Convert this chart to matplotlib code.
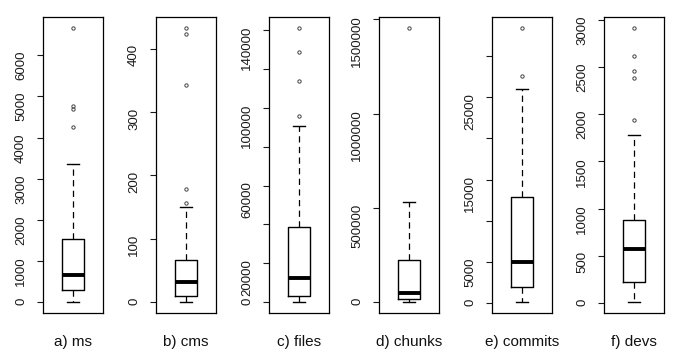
import matplotlib
matplotlib.use("Agg")
import matplotlib.pyplot as plt

plt.rcParams['font.family'] = ['Liberation Sans', 'DejaVu Sans']

# one box per panel
names = ["a) ms", "b) cms", "c) files", "d) chunks", "e) commits", "f) devs"]
whislo = [0, 0, 0, 0, 100, 10]
q1 = [285, 9.5, 3100, 16000, 1950, 223]
med = [660, 32, 12600, 48000, 4950, 567]
q3 = [1545, 67, 38800, 225000, 12930, 880]
whishi = [3358, 150, 90900, 532000, 26000, 1777]
fliers = [
    [4268, 4691, 4772, 6667],
    [157, 178, 343, 423, 433],
    [96000, 114100, 129000, 141200],
    [1455000],
    [27640, 33450],
    [1943, 2387, 2457, 2617, 2915],
]

# y ticks and their labels (R drops the ones that would overlap)
ticks = [
    [0, 1000, 2000, 3000, 4000, 5000, 6000],
    [0, 100, 200, 300, 400],
    [0, 20000, 40000, 60000, 80000, 100000, 120000, 140000],
    [0, 500000, 1000000, 1500000],
    [0, 5000, 10000, 15000, 20000, 25000, 30000],
    [0, 500, 1000, 1500, 2000, 2500, 3000],
]
tick_labels = [
    ["0", "1000", "2000", "3000", "4000", "5000", "6000"],
    ["0", "100", "200", "300", "400"],
    ["0", "20000", "", "60000", "", "100000", "", "140000"],
    ["0", "500000", "1000000", "1500000"],
    ["0", "5000", "", "15000", "", "25000", ""],
    ["0", "500", "1000", "1500", "2000", "2500", "3000"],
]

W, H = 678, 352
lefts = [43, 156, 269, 379, 492, 604]

fig = plt.figure(figsize=(W / 100, H / 100), dpi=100)

for i in range(6):
    ax = fig.add_axes([lefts[i] / W, (H - 313) / H, 60 / W, 296 / H])
    st = dict(med=med[i], q1=q1[i], q3=q3[i], whislo=whislo[i],
              whishi=whishi[i], fliers=fliers[i])
    ax.bxp([st], positions=[1], widths=0.4, capwidths=0.2,
           boxprops=dict(color="black", lw=1.0),
           medianprops=dict(color="black", lw=2.8, solid_capstyle="butt"),
           whiskerprops=dict(color="black", lw=0.9, linestyle=(0, (5, 3.5))),
           capprops=dict(color="black", lw=1.0),
           flierprops=dict(marker="o", markersize=2.4, markerfacecolor="none",
                           markeredgecolor="#444444", markeredgewidth=0.7))

    lo = min([whislo[i]] + fliers[i])
    hi = max([whishi[i]] + fliers[i])
    r = hi - lo
    ax.set_ylim(lo - 0.04 * r, hi + 0.04 * r)
    ax.set_xlim(0.46, 1.54)
    ax.set_xticks([])
    ax.set_yticks(ticks[i])
    ax.set_yticklabels(tick_labels[i])
    ax.tick_params(axis="y", direction="out", length=4.5, width=0.8, pad=7,
                   labelsize=9.5, labelrotation=90, colors="#1a1a1a")
    for sp in ax.spines.values():
        sp.set_linewidth(0.9)
        sp.set_color("black")
    ax.set_xlabel(names[i], fontsize=11, labelpad=16, color="#111111")

fig.savefig("out.png", dpi=100)
